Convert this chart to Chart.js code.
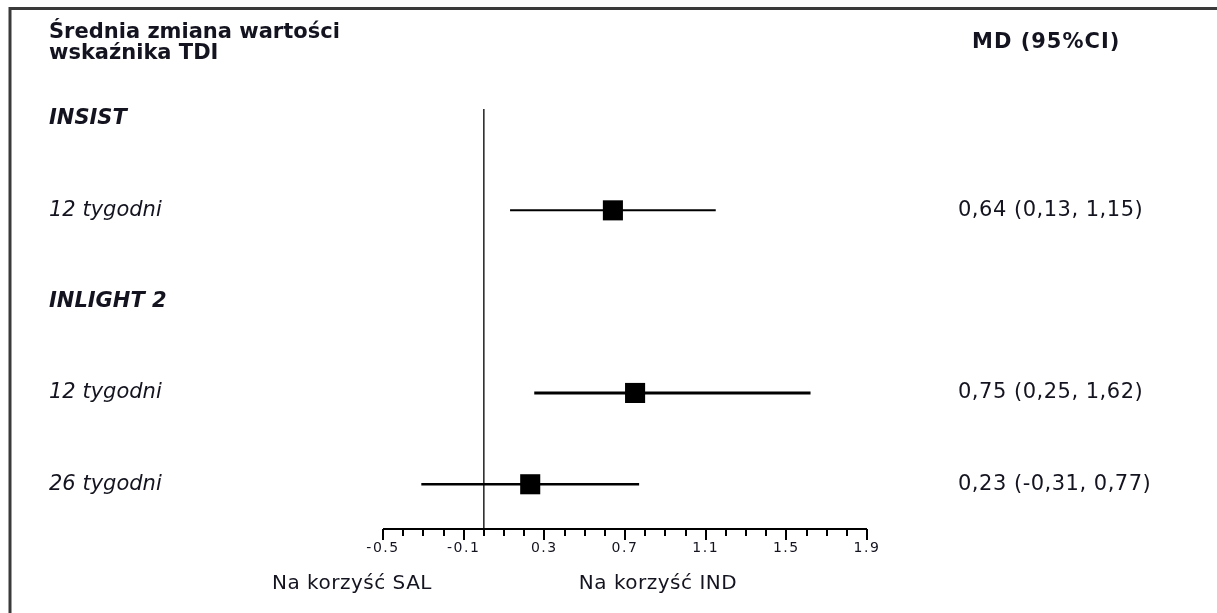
<!DOCTYPE html>
<html lang="pl">
<head>
<meta charset="utf-8">
<title>Średnia zmiana wartości wskaźnika TDI</title>
<script src="https://cdn.jsdelivr.net/npm/chart.js@4.4.1/dist/chart.umd.min.js"></script>
<style>
  html, body { margin: 0; padding: 0; background: #ffffff; }
  #wrap { position: relative; width: 1217px; height: 613px; }
</style>
</head>
<body>
<div id="wrap"><canvas id="forest"></canvas></div>
<script>
// Row labels, top to bottom (row index = position on the y scale)
const rowLabels = ['INSIST', '12 tygodni', 'INLIGHT 2', '12 tygodni', '26 tygodni'];
const rowIsGroup = [true, false, true, false, false];

// Study results: row index, mean difference and 95% CI
const studyRows = [1, 3, 4];
const meanDiff = [0.64, 0.75, 0.23];
const ciLow = [0.13, 0.25, -0.31];
const ciHigh = [1.15, 1.62, 0.77];

// Axis
const axisMin = -0.5;
const axisMax = 1.9;
const majorTicks = [-0.5, -0.1, 0.3, 0.7, 1.1, 1.5, 1.9];
const majorTickLabels = ['-0.5', '-0.1', '0.3', '0.7', '1.1', '1.5', '1.9'];
const minorTickStep = 0.1;

const headerTitle = ['Średnia zmiana wartości', 'wskaźnika TDI'];
const headerStat = 'MD (95%CI)';
const sideLabels = ['Na korzyść SAL', 'Na korzyść IND'];

const FONT = '"DejaVu Sans", Verdana, sans-serif';
const INK = '#141420';
const ciWidths = [2, 3, 2.5];

const yMin = -0.11, yMax = 4.49;

const fmt = v => v.toFixed(2).replace('.', ',');

const datasets = [];
// zero line
datasets.push({
  type: 'line',
  data: [{ x: 0, y: yMin }, { x: 0, y: yMax }],
  borderColor: '#222222',
  borderWidth: 1.5,
  pointRadius: 0,
  order: 3
});
// confidence intervals
studyRows.forEach((row, i) => {
  datasets.push({
    type: 'line',
    data: [{ x: ciLow[i], y: row }, { x: ciHigh[i], y: row }],
    borderColor: '#000000',
    borderWidth: ciWidths[i],
    pointRadius: 0,
    order: 2
  });
});
// point estimates
datasets.push({
  type: 'scatter',
  data: studyRows.map((row, i) => ({ x: meanDiff[i], y: row })),
  pointStyle: 'rect',
  pointRadius: 14.2,
  pointHoverRadius: 14.2,
  backgroundColor: '#000000',
  borderColor: '#000000',
  borderWidth: 0,
  order: 1
});

const forestDecor = {
  id: 'forestDecor',
  beforeDraw(chart) {
    const ctx = chart.ctx;
    ctx.save();
    ctx.fillStyle = '#ffffff';
    ctx.fillRect(0, 0, chart.width, chart.height);
    ctx.restore();
  },
  afterDraw(chart) {
    const ctx = chart.ctx;
    const xs = chart.scales.x;
    const ys = chart.scales.y;
    const area = chart.chartArea;
    ctx.save();

    // frame (top and left edges)
    ctx.strokeStyle = '#3a3a3a';
    ctx.lineWidth = 3;
    ctx.beginPath();
    ctx.moveTo(10, chart.height);
    ctx.lineTo(10, 8.5);
    ctx.lineTo(chart.width, 8.5);
    ctx.stroke();

    // x axis line and ticks
    const axisY = area.bottom;
    ctx.strokeStyle = '#000000';
    ctx.lineWidth = 2;
    ctx.beginPath();
    ctx.moveTo(xs.getPixelForValue(axisMin), axisY);
    ctx.lineTo(xs.getPixelForValue(axisMax), axisY);
    ctx.stroke();
    const nMinor = Math.round((axisMax - axisMin) / minorTickStep);
    ctx.lineWidth = 2;
    for (let k = 0; k <= nMinor; k++) {
      const v = axisMin + k * minorTickStep;
      const isMajor = majorTicks.some(m => Math.abs(m - v) < 1e-6);
      const px = Math.round(xs.getPixelForValue(v));
      ctx.beginPath();
      ctx.moveTo(px, axisY);
      ctx.lineTo(px, axisY + (isMajor ? 11 : 7));
      ctx.stroke();
    }

    ctx.fillStyle = INK;
    ctx.textBaseline = 'middle';

    // tick labels
    ctx.font = '14px ' + FONT;
    ctx.letterSpacing = '1.5px';
    ctx.textAlign = 'center';
    majorTicks.forEach((v, i) => {
      ctx.fillText(majorTickLabels[i], xs.getPixelForValue(v), 548);
    });

    // favour labels
    ctx.font = '20px ' + FONT;
    ctx.letterSpacing = '0.5px';
    ctx.fillText(sideLabels[0], 352, 584);
    ctx.fillText(sideLabels[1], 658, 584);

    // header
    ctx.textAlign = 'left';
    ctx.font = 'bold 21px ' + FONT;
    ctx.letterSpacing = '0px';
    ctx.fillText(headerTitle[0], 49, 33);
    ctx.fillText(headerTitle[1], 49, 54);
    ctx.letterSpacing = '1px';
    ctx.fillText(headerStat, 972, 43);

    // row labels
    ctx.letterSpacing = '0px';
    rowLabels.forEach((label, row) => {
      ctx.font = (rowIsGroup[row] ? 'italic bold 21px ' : 'italic 21px ') + FONT;
      ctx.fillText(label, 49, ys.getPixelForValue(row));
    });

    // estimates column
    ctx.font = '21px ' + FONT;
    ctx.letterSpacing = '0.5px';
    studyRows.forEach((row, i) => {
      const txt = fmt(meanDiff[i]) + ' (' + fmt(ciLow[i]) + ', ' + fmt(ciHigh[i]) + ')';
      ctx.fillText(txt, 958, ys.getPixelForValue(row));
    });

    ctx.restore();
  }
};

new Chart(document.getElementById('forest'), {
  type: 'scatter',
  data: { datasets },
  options: {
    responsive: true,
    maintainAspectRatio: false,
    animation: false,
    events: [],
    layout: { padding: { left: 383, right: 350, top: 109, bottom: 84 } },
    plugins: { legend: { display: false }, tooltip: { enabled: false } },
    scales: {
      x: { type: 'linear', min: axisMin, max: axisMax, display: false },
      y: { type: 'linear', min: yMin, max: yMax, reverse: true, display: false }
    }
  },
  plugins: [forestDecor]
});
</script>
</body>
</html>
